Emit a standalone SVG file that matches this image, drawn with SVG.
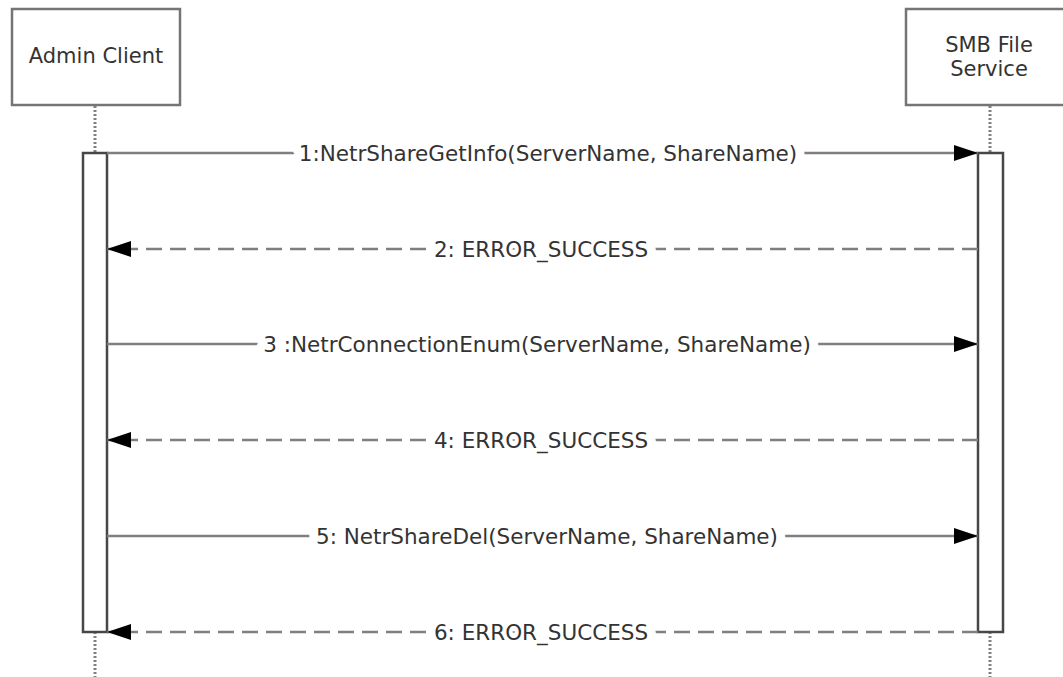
<svg xmlns="http://www.w3.org/2000/svg" width="1063" height="677" viewBox="0 0 1063 677">
  <style>
    .box { fill: #ffffff; stroke: #757575; stroke-width: 2.5; }
    .bar { fill: #ffffff; stroke: #474747; stroke-width: 2.5; }
    .life { stroke: #808080; stroke-width: 3; stroke-dasharray: 2 2; fill: none; }
    .msg { stroke: #7f7f7f; stroke-width: 2.5; fill: none; }
    .ret { stroke: #7f7f7f; stroke-width: 2.5; fill: none; stroke-dasharray: 16 8; }
    .t { font-family: "DejaVu Sans", Verdana, sans-serif; font-size: 21px; fill: #333333; text-anchor: middle; }
    .lbl { font-family: "DejaVu Sans", Verdana, sans-serif; font-size: 21.5px; fill: #333333; text-anchor: middle; stroke: #ffffff; stroke-width: 18; stroke-linejoin: round; paint-order: stroke; }
  </style>
  <defs>
    <marker id="ah" markerUnits="userSpaceOnUse" markerWidth="26" markerHeight="18" refX="24" refY="8" orient="auto">
      <path d="M0,0 L24,8 L0,16 Z" fill="#000000"/>
    </marker>
  </defs>

  <g id="admin-client">
    <rect class="box" x="12" y="9" width="168" height="96"/>
    <text class="t" x="96" y="63">Admin Client</text>
    <line class="life" x1="95" y1="106" x2="95" y2="153"/>
    <line class="life" x1="95" y1="632" x2="95" y2="677"/>
    <rect class="bar" x="83" y="153" width="24" height="479"/>
  </g>

  <g id="smb-file-service">
    <rect class="box" x="906" y="9" width="168" height="96"/>
    <text class="t" x="989" y="52">SMB File</text>
    <text class="t" x="989" y="76">Service</text>
    <line class="life" x1="990" y1="106" x2="990" y2="153"/>
    <line class="life" x1="990" y1="632" x2="990" y2="677"/>
    <rect class="bar" x="978" y="153" width="25" height="479"/>
  </g>

  <g id="connectors">
    <g id="msg1">
      <line class="msg" x1="107" y1="153" x2="978" y2="153" marker-end="url(#ah)"/>
      <text class="lbl" x="548" y="161">1:NetrShareGetInfo(ServerName, ShareName)</text>
    </g>
    <g id="msg2">
      <line class="ret" x1="978" y1="249" x2="107" y2="249" marker-end="url(#ah)"/>
      <text class="lbl" x="541" y="257">2: ERROR_SUCCESS</text>
    </g>
    <g id="msg3">
      <line class="msg" x1="107" y1="344" x2="978" y2="344" marker-end="url(#ah)"/>
      <text class="lbl" x="537" y="352">3 :NetrConnectionEnum(ServerName, ShareName)</text>
    </g>
    <g id="msg4">
      <line class="ret" x1="978" y1="440" x2="107" y2="440" marker-end="url(#ah)"/>
      <text class="lbl" x="541" y="448">4: ERROR_SUCCESS</text>
    </g>
    <g id="msg5">
      <line class="msg" x1="107" y1="536" x2="978" y2="536" marker-end="url(#ah)"/>
      <text class="lbl" x="547" y="544">5: NetrShareDel(ServerName, ShareName)</text>
    </g>
    <g id="msg6">
      <line class="ret" x1="978" y1="632" x2="107" y2="632" marker-end="url(#ah)"/>
      <text class="lbl" x="541" y="640">6: ERROR_SUCCESS</text>
    </g>
  </g>
</svg>
